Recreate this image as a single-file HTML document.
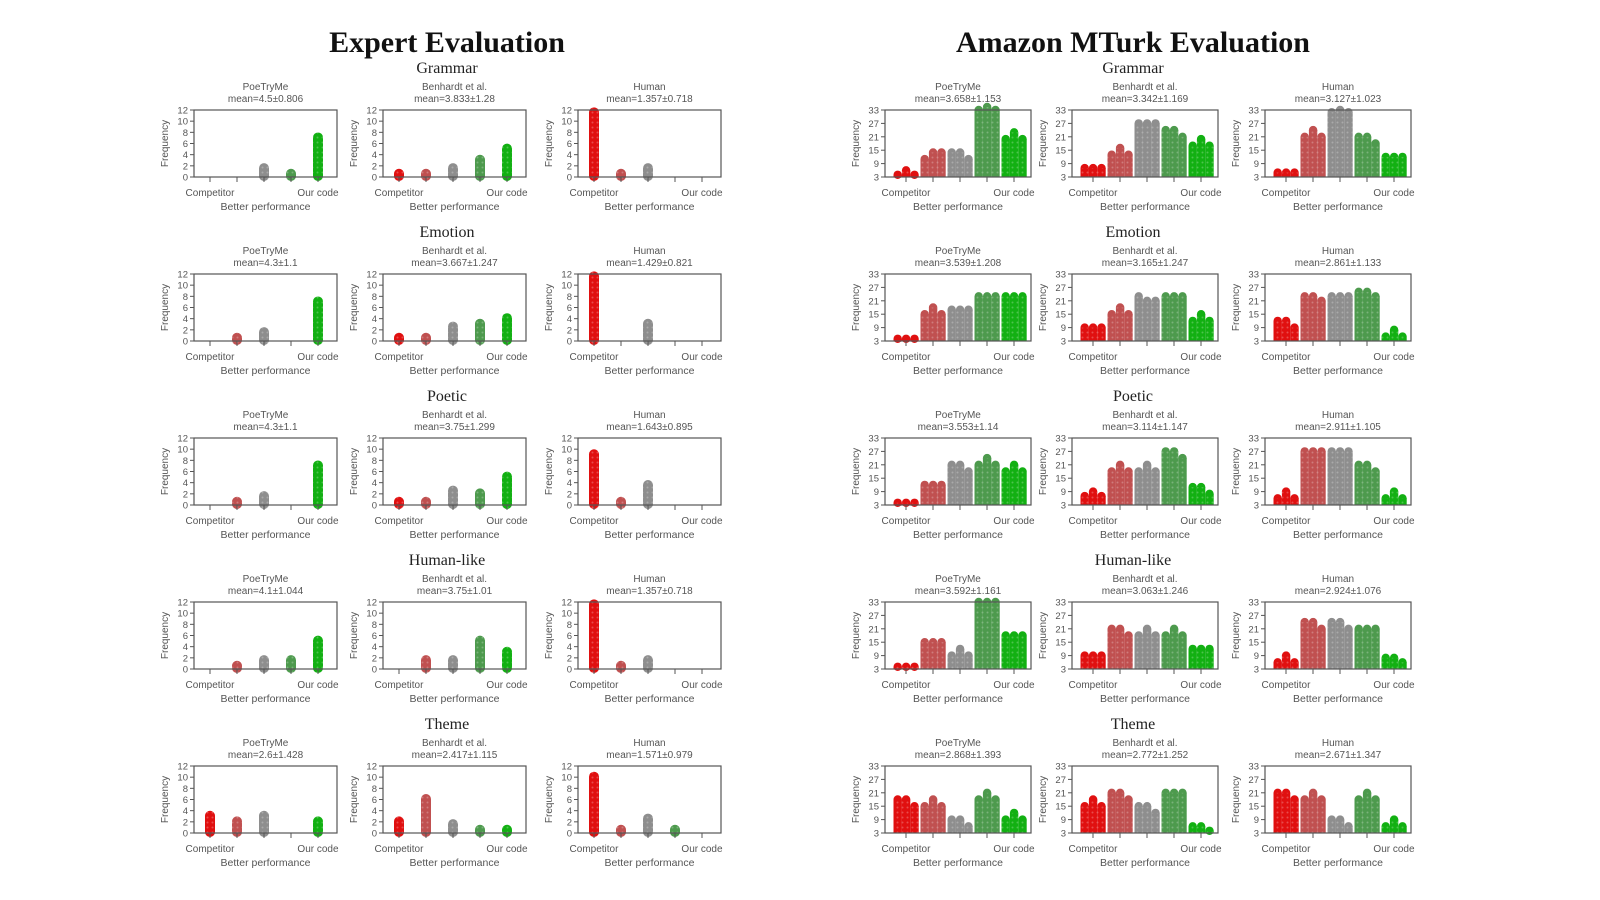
<!DOCTYPE html>
<html><head><meta charset="utf-8"><style>
html,body{margin:0;padding:0;background:#fff;}
svg{display:block}
</style></head><body>
<svg id="s" width="1600" height="900" xmlns="http://www.w3.org/2000/svg">
<defs>
<pattern id="dots" width="5" height="5" patternUnits="userSpaceOnUse"><circle cx="2.5" cy="2.5" r="1" fill="#fff" opacity="0.25"/></pattern>
</defs>
<text x="447" y="52" text-anchor="middle" font-family="Liberation Serif, serif" font-weight="bold" font-size="30" fill="#111">Expert Evaluation</text>
<text x="1133" y="52" text-anchor="middle" font-family="Liberation Serif, serif" font-weight="bold" font-size="30" fill="#111">Amazon MTurk Evaluation</text>
</svg>
<script>
var s=document.getElementById('s');var NS='http://www.w3.org/2000/svg';
function el(t,a,txt){var e=document.createElementNS(NS,t);for(var k in a)e.setAttribute(k,a[k]);if(txt!==undefined)e.textContent=txt;s.appendChild(e);return e;}
var cols=['#e01010','#c05050','#8e8e8e','#4d9a4d','#12b012'];
var rows=['Grammar','Emotion','Poetic','Human-like','Theme'];
var names=['PoeTryMe','Benhardt et al.','Human'];
var em=[['4.5±0.806','3.833±1.28','1.357±0.718'],['4.3±1.1','3.667±1.247','1.429±0.821'],['4.3±1.1','3.75±1.299','1.643±0.895'],['4.1±1.044','3.75±1.01','1.357±0.718'],['2.6±1.428','2.417±1.115','1.571±0.979']];
var mm=[['3.658±1.153','3.342±1.169','3.127±1.023'],['3.539±1.208','3.165±1.247','2.861±1.133'],['3.553±1.14','3.114±1.147','2.911±1.105'],['3.592±1.161','3.063±1.246','2.924±1.076'],['2.868±1.393','2.772±1.252','2.671±1.347']];
var ed=[[[0,0,2,1,7.5],[1,1,2,3.5,5.5],[12,1,2,0,0]],
[[0,1,2,0,7.5],[1,1,3,3.5,4.5],[12,0,3.5,0,0]],
[[0,1,2,0,7.5],[1,1,3,2.5,5.5],[9.5,1,4,0,0]],
[[0,1,2,2,5.5],[0,2,2,5.5,3.5],[12,1,2,0,0]],
[[3.5,2.5,3.5,0,2.5],[2.5,6.5,2,1,1],[10.5,1,3,1,0]]];
var md=[[[[4,6,4],[11,14,14],[14,14,11],[33,35,33],[20,23,20]],[[7,7,7],[13,16,13],[27,27,27],[24,24,21],[17,20,17]],[[5,5,5],[21,24,21],[32,33,32],[21,21,18],[12,12,12]]],
[[[4,4,4],[15,18,15],[17,17,17],[23,23,23],[23,23,23]],[[9,9,9],[15,18,15],[23,21,21],[23,23,23],[12,15,12]],[[12,12,9],[23,23,21],[23,23,23],[25,25,23],[5,8,5]]],
[[[4,4,4],[12,12,12],[21,21,18],[21,24,21],[18,21,18]],[[7,9,7],[18,21,18],[18,21,18],[27,27,24],[11,11,8]],[[6,9,6],[27,27,27],[27,27,27],[21,21,18],[6,9,6]]],
[[[4,4,4],[15,15,15],[9,12,9],[33,33,33],[18,18,18]],[[9,9,9],[21,21,18],[18,21,18],[18,21,18],[12,12,12]],[[6,9,6],[24,24,21],[24,24,21],[21,21,21],[8,8,6]]],
[[[18,18,15],[15,18,15],[9,9,6],[18,21,18],[9,12,9]],[[15,18,15],[21,21,18],[15,15,12],[21,21,21],[6,6,4]],[[21,21,18],[18,21,18],[9,9,6],[18,21,18],[6,9,6]]]];
var F='Liberation Sans, sans-serif';
function panel(L,T,W,H,title,mean,yt,ymin,ymax,first,step,draw){
 var cx=L+W/2;
 el('text',{x:cx,y:T-20,'text-anchor':'middle','font-family':F,'font-size':10,fill:'#555'},title);
 el('text',{x:cx,y:T-8,'text-anchor':'middle','font-family':F,'font-size':10,fill:'#555'},'mean='+mean);
 var B=T+H;
 function Y(v){return B-(v-ymin)/(ymax-ymin)*H;}
 draw(Y,B);
 el('rect',{x:L,y:T,width:W,height:H,fill:'none',stroke:'#555','stroke-width':1.2});
 yt.forEach(function(v){var y=Y(v);el('line',{x1:L-4,y1:y,x2:L,y2:y,stroke:'#555'});el('text',{x:L-6,y:y+3.5,'text-anchor':'end','font-family':F,'font-size':9.5,fill:'#555'},v);});
 for(var i=0;i<5;i++){var x=first+i*step;el('line',{x1:x,y1:B,x2:x,y2:B+5,stroke:'#555'});}
 el('text',{x:L-26,y:T+H/2,'text-anchor':'middle','font-family':F,'font-size':10,fill:'#555',transform:'rotate(-90 '+(L-26)+' '+(T+H/2)+')'},'Frequency');
 el('text',{x:first,y:B+19,'text-anchor':'middle','font-family':F,'font-size':10,fill:'#555'},'Competitor');
 el('text',{x:first+4*step,y:B+19,'text-anchor':'middle','font-family':F,'font-size':10,fill:'#555'},'Our code');
 el('text',{x:cx,y:B+33,'text-anchor':'middle','font-family':F,'font-size':10.5,fill:'#555'},'Better performance');
}
var EL=[194,383,578],ML=[885,1072,1265];
for(var r=0;r<5;r++){
 var T=110+r*164;
 el('text',{x:447,y:T-37,'text-anchor':'middle','font-family':'Liberation Serif, serif','font-size':16,fill:'#222'},rows[r]);
 el('text',{x:1133,y:T-37,'text-anchor':'middle','font-family':'Liberation Serif, serif','font-size':16,fill:'#222'},rows[r]);
 for(var p=0;p<3;p++){
  (function(r,p){
  var L=EL[p],first=L+16,step=27;
  panel(L,T,143,67,names[p],em[r][p],[0,2,4,6,8,10,12],0,12,first,step,function(Y,B){
   ed[r][p].forEach(function(v,i){if(!v)return;var x=first+i*step,y=Y(v+0.3);
    el('rect',{x:x-5,y:y-1,width:10,height:B-y+5,rx:5,fill:cols[i]});
    el('rect',{x:x-5,y:y-1,width:10,height:B-y+5,rx:5,fill:'url(#dots)'});});
  });
  var L2=ML[p],f2=L2+21,st2=27;
  panel(L2,T,146,67,names[p],mm[r][p],[3,9,15,21,27,33],3,33,f2,st2,function(Y,B){
   md[r][p].forEach(function(a,i){var cx=f2+i*st2;
    a.forEach(function(v,j){var x=cx-12.5+j*8.4,y=Math.max(Y(v),T-3);
     el('rect',{x:x,y:y,width:8.4,height:B-y,fill:cols[i]});
     el('circle',{cx:x+4.2,cy:y,r:4.2,fill:cols[i]});
     el('rect',{x:x,y:y,width:8.4,height:B-y,fill:'url(#dots)'});});});
  });
  })(r,p);
 }
}
</script>
</body></html>
